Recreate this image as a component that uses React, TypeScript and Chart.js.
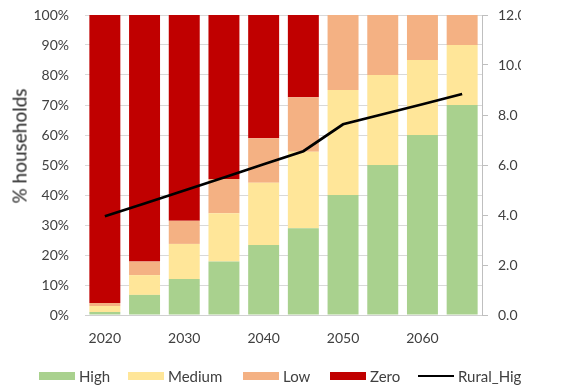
import { useEffect, useRef } from 'react';
import { Chart, registerables } from 'chart.js';

Chart.register(...registerables);

// Projection years (one bar per year)
const years = ['2020', '2025', '2030', '2035', '2040', '2045', '2050', '2055', '2060', '2065'];

// Share of households by category, % (stacked to 100)
const high = [1, 6.7, 12, 17.8, 23.3, 28.9, 40, 50, 60, 70];
const medium = [2, 6.6, 11.7, 16.1, 20.8, 25.5, 35, 30, 25, 20];
const low = [1, 4.5, 7.7, 11.4, 14.8, 18.2, 25, 20, 15, 10];
const zero = [96, 82.2, 68.6, 54.7, 41.1, 27.4, 0, 0, 0, 0];

// Secondary series on the right axis
const ruralHigh = [3.95, 4.46, 4.98, 5.5, 6.03, 6.55, 7.63, 8.03, 8.43, 8.84];

// Axis tick settings
const leftTicks = { min: 0, max: 100, step: 10 };
const rightTicks = { min: 0, max: 12, step: 2 };

const FONT = 'Lato, "Open Sans", "DejaVu Sans", sans-serif';
const TEXT = '#404040';

const legendItems = [
  { label: 'High', color: '#a9d18e', kind: 'box' },
  { label: 'Medium', color: '#ffe699', kind: 'box' },
  { label: 'Low', color: '#f4b183', kind: 'box' },
  { label: 'Zero', color: '#c00000', kind: 'box' },
  { label: 'Rural_High', color: '#000000', kind: 'line' },
];
const legendLeft = [39, 128, 243, 330, 418];

// Fixed axis widths; labels may overhang the plot edges without shrinking it
const fixWidth = (w: number) => (s: any) => {
  s.width = w;
  s.paddingTop = 0;
  s.paddingBottom = 0;
};

export default function App() {
  const canvasRef = useRef<HTMLCanvasElement>(null);

  useEffect(() => {
    const canvas = canvasRef.current;
    if (!canvas) return;
    const tickFont = { family: FONT, size: 14 };
    const chart = new Chart(canvas, {
      type: 'bar',
      data: {
        labels: years,
        datasets: [
          {
            type: 'line',
            label: 'Rural_High',
            data: ruralHigh,
            yAxisID: 'y1',
            borderColor: '#000000',
            borderWidth: 2.75,
            pointRadius: 0,
            tension: 0,
            order: 0,
          },
          { label: 'High', data: high, backgroundColor: '#a9d18e', yAxisID: 'y', stack: 's', order: 1 },
          { label: 'Medium', data: medium, backgroundColor: '#ffe699', yAxisID: 'y', stack: 's', order: 1 },
          { label: 'Low', data: low, backgroundColor: '#f4b183', yAxisID: 'y', stack: 's', order: 1 },
          { label: 'Zero', data: zero, backgroundColor: '#c00000', yAxisID: 'y', stack: 's', order: 1 },
        ] as any,
      },
      options: {
        responsive: false,
        animation: false,
        datasets: { bar: { barPercentage: 0.78, categoryPercentage: 1 } },
        layout: { padding: { top: 15, bottom: 42, left: 0, right: 0 } },
        plugins: { legend: { display: false }, tooltip: { enabled: false } },
        scales: {
          x: {
            stacked: true,
            grid: { display: false },
            border: { display: true, color: '#d0d0d0' },
            ticks: {
              autoSkip: false,
              maxRotation: 0,
              padding: 7,
              font: tickFont,
              color: TEXT,
              callback: (_v: any, i: number) => (i % 2 === 0 ? years[i] : ''),
            },
            afterFit: (s: any) => {
              s.height = 35;
            },
          },
          y: {
            stacked: true,
            position: 'left',
            min: leftTicks.min,
            max: leftTicks.max,
            grid: { color: '#d9d9d9', drawTicks: false },
            border: { display: false },
            ticks: {
              stepSize: leftTicks.step,
              padding: 16,
              font: tickFont,
              color: TEXT,
              callback: (v: any) => `${v}%`,
            },
            afterFit: fixWidth(85),
          },
          y1: {
            position: 'right',
            min: rightTicks.min,
            max: rightTicks.max,
            grid: { drawOnChartArea: false, drawTicks: true, tickLength: 6, color: '#bfbfbf' },
            border: { display: true, color: '#bfbfbf' },
            ticks: {
              stepSize: rightTicks.step,
              padding: 10,
              font: tickFont,
              color: TEXT,
              callback: (v: any) => Number(v).toFixed(1),
            },
            afterFit: fixWidth(78),
          },
        },
      } as any,
    });
    return () => chart.destroy();
  }, []);

  return (
    <div
      style={{
        position: 'absolute',
        left: 0,
        top: 0,
        width: 521,
        height: 392,
        overflow: 'hidden',
        background: '#ffffff',
      }}
    >
      <canvas ref={canvasRef} width={560} height={392} style={{ display: 'block' }} />
      <div
        style={{
          position: 'absolute',
          left: 19,
          top: 146,
          transform: 'translate(-50%, -50%) rotate(-90deg)',
          whiteSpace: 'nowrap',
          fontFamily: FONT,
          fontSize: 19,
          color: '#262626',
          lineHeight: 1,
        }}
      >
        % households
      </div>
      {legendItems.map((item, i) => (
        <div
          key={item.label}
          style={{
            position: 'absolute',
            left: legendLeft[i],
            top: 366,
            height: 20,
            display: 'flex',
            alignItems: 'center',
            whiteSpace: 'nowrap',
            fontFamily: FONT,
            fontSize: 15,
            color: TEXT,
          }}
        >
          <span
            style={{
              display: 'inline-block',
              width: 36,
              height: item.kind === 'box' ? 8 : 2.5,
              background: item.color,
              marginRight: 4,
            }}
          />
          <span>{item.label}</span>
        </div>
      ))}
    </div>
  );
}
